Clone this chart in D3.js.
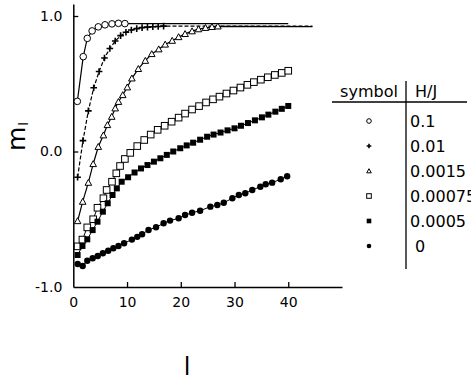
<!DOCTYPE html>
<html><head><meta charset="utf-8">
<script src="https://cdn.jsdelivr.net/npm/d3@7"></script>
<style>
html,body{margin:0;padding:0;background:#fff;overflow:hidden;}
svg{display:block;}
text{font-family:"DejaVu Sans","Liberation Sans",Arial,sans-serif;fill:#000;}
</style></head>
<body>
<svg id="chart" width="471" height="381"></svg>
<script>
// ---- data ----
const xTicks = [0, 10, 20, 30, 40];
const yTicks = [-1, 0, 1];
const legendHeader = ["symbol", "H/J"];
const fieldLabels = ["0.1", "0.01", "0.0015", "0.00075", "0.0005", "0"];
const symbols = ["circleOpen", "plus", "triangleOpen", "squareOpen", "squareFilled", "circleFilled"];

// H/J = 0.1 (open circles)
const lA = [0.75, 1.85, 2.6, 3.5, 4.65, 5.9, 7.2, 8.4, 9.6];
const mA = [0.37, 0.70, 0.835, 0.89, 0.92, 0.935, 0.942, 0.946, 0.944];
const tailA = [40, 0.944];
// H/J = 0.01 (plus)
const lB = [0.8, 1.8, 2.8, 3.8, 4.8, 5.8, 6.8, 7.8, 8.8, 9.8, 10.8, 11.8, 12.8, 13.8, 14.8, 15.8, 16.8];
const mB = [-0.19, 0.08, 0.30, 0.47, 0.59, 0.69, 0.76, 0.815, 0.855, 0.88, 0.897, 0.907, 0.914, 0.918, 0.921, 0.923, 0.925];
const tailB = [44.5, 0.926];
// H/J = 0.0015 (open triangles)
const lC = [0.8, 1.75, 2.8, 3.7, 4.65, 5.6, 6.35, 7.15, 7.8, 8.4, 9.2, 10.05, 10.9, 12.1, 13.4, 14.6, 15.9, 17.1, 18.4, 19.6, 20.8, 22.1, 23.3, 24.6, 25.8, 26.9];
const mC = [-0.513, -0.37, -0.23, -0.092, 0.035, 0.12, 0.196, 0.257, 0.319, 0.367, 0.417, 0.474, 0.54, 0.61, 0.67, 0.72, 0.755, 0.79, 0.818, 0.845, 0.868, 0.888, 0.903, 0.913, 0.92, 0.924];
const tailC = [44.5, 0.921];
// H/J = 0.00075 (open squares)
const lD = [0.8, 1.7, 2.6, 3.7, 4.5, 5.6, 6.2, 7.2, 8.0, 8.7, 9.6, 10.6, 11.9, 13.2, 14.4, 15.7, 17.0, 18.3, 19.6, 20.8, 22.1, 23.4, 24.7, 26.0, 27.2, 28.5, 29.8, 31.1, 32.4, 33.6, 34.9, 36.2, 37.5, 38.8, 40.0];
const mD = [-0.70, -0.65, -0.56, -0.50, -0.415, -0.345, -0.284, -0.223, -0.161, -0.107, -0.055, -0.01, 0.04, 0.085, 0.125, 0.16, 0.19, 0.22, 0.25, 0.28, 0.31, 0.335, 0.362, 0.385, 0.405, 0.428, 0.45, 0.472, 0.492, 0.512, 0.53, 0.548, 0.565, 0.58, 0.596];
// H/J = 0.0005 (filled squares)
const lE = [0.8, 1.7, 2.6, 3.6, 4.5, 5.5, 6.4, 7.3, 8.1, 9.0, 10.2, 11.4, 12.6, 13.8, 15.0, 16.2, 17.4, 18.6, 19.9, 21.1, 22.3, 23.6, 24.9, 26.1, 27.4, 28.7, 30.0, 31.2, 32.5, 33.8, 35.1, 36.3, 37.6, 38.8, 40.0];
const mE = [-0.764, -0.697, -0.648, -0.58, -0.518, -0.444, -0.382, -0.321, -0.272, -0.223, -0.19, -0.155, -0.125, -0.10, -0.075, -0.05, -0.025, 0.0, 0.024, 0.045, 0.065, 0.087, 0.109, 0.125, 0.14, 0.156, 0.171, 0.19, 0.21, 0.23, 0.252, 0.272, 0.294, 0.315, 0.336];
// H/J = 0 (filled circles)
const lF = [0.82, 1.75, 2.6, 3.6, 4.55, 5.5, 6.5, 7.45, 8.4, 9.45, 10.9, 11.9, 12.8, 14.0, 15.4, 16.8, 18.0, 19.6, 20.8, 22.1, 23.6, 25.5, 26.8, 28.0, 29.6, 30.8, 32.0, 33.3, 34.8, 35.8, 37.0, 38.6, 39.8];
const mF = [-0.83, -0.845, -0.806, -0.788, -0.771, -0.751, -0.732, -0.714, -0.697, -0.677, -0.65, -0.63, -0.611, -0.579, -0.559, -0.53, -0.51, -0.493, -0.469, -0.452, -0.437, -0.407, -0.395, -0.378, -0.345, -0.321, -0.308, -0.284, -0.26, -0.242, -0.23, -0.205, -0.183];

const series = [
  {l: lA, m: mA, tail: tailA, sym: symbols[0], dash: null},
  {l: lB, m: mB, tail: tailB, sym: symbols[1], dash: "4,2"},
  {l: lC, m: mC, tail: tailC, sym: symbols[2], dash: null},
  {l: lD, m: mD, tail: null, sym: symbols[3], dash: null},
  {l: lE, m: mE, tail: null, sym: symbols[4], dash: null},
  {l: lF, m: mF, tail: null, sym: symbols[5], dash: null}
];

// ---- drawing ----
const svg = d3.select("#chart");
const x = d3.scaleLinear().domain([0, 50]).range([73.3, 342]);
const y = d3.scaleLinear().domain([-1, 1.0886]).range([287, 4]);
const FONT = '"DejaVu Sans","Liberation Sans",Arial,sans-serif';

// axes
const gx = svg.append("g").attr("transform", `translate(0,${y(-1)})`)
  .call(d3.axisBottom(x).tickValues(xTicks).tickSizeInner(-5).tickSizeOuter(0).tickPadding(10).tickFormat(d3.format("d")));
const gy = svg.append("g").attr("transform", `translate(${x(0)},0)`)
  .call(d3.axisLeft(y).tickValues(yTicks).tickSizeInner(-5).tickSizeOuter(0).tickPadding(11).tickFormat(d => d.toFixed(1)));
[gx, gy].forEach(g => {
  g.select(".domain").attr("stroke", "#000").attr("stroke-width", 1.5);
  g.selectAll(".tick line").attr("stroke", "#000").attr("stroke-width", 1.3);
  g.selectAll(".tick text").attr("font-size", 14).attr("font-family", FONT).attr("fill", "#000");
});
gx.selectAll(".tick").filter(d => d === 0).select("line").remove();
gy.selectAll(".tick").filter(d => d === -1).select("line").remove();

// symbol drawer
function drawSymbol(g, sym, s) {
  const h = s / 2;
  switch (sym) {
    case "circleOpen":
      g.append("circle").attr("r", h).attr("fill", "#fff").attr("stroke", "#000").attr("stroke-width", 1); break;
    case "circleFilled":
      g.append("circle").attr("r", h).attr("fill", "#000"); break;
    case "plus":
      g.append("path").attr("d", `M${-h},0H${h}M0,${-h}V${h}`).attr("stroke", "#000").attr("stroke-width", 1.6); break;
    case "triangleOpen":
      g.append("path").attr("d", `M0,${-h}L${h},${h*0.8}L${-h},${h*0.8}Z`).attr("fill", "#fff").attr("stroke", "#000").attr("stroke-width", 1); break;
    case "squareOpen":
      g.append("rect").attr("x", -h).attr("y", -h).attr("width", s).attr("height", s).attr("fill", "#fff").attr("stroke", "#000").attr("stroke-width", 1); break;
    case "squareFilled":
      g.append("rect").attr("x", -h).attr("y", -h).attr("width", s).attr("height", s).attr("fill", "#000"); break;
  }
}

const line = d3.line().x(d => x(d[0])).y(d => y(d[1]));
const plot = svg.append("g");
series.forEach(s => {
  const pts = s.l.map((v, i) => [v, s.m[i]]);
  const full = s.tail ? pts.concat([s.tail]) : pts;
  plot.append("path").attr("d", line(full)).attr("fill", "none").attr("stroke", "#000")
    .attr("stroke-width", s.tail ? 1.2 : 1).attr("stroke-dasharray", s.dash);
});
series.forEach(s => {
  s.l.forEach((v, i) => {
    const g = plot.append("g").attr("transform", `translate(${x(v)},${y(s.m[i])})`);
    drawSymbol(g, s.sym, s.sym === "circleFilled" ? 6.4 : (s.sym === "squareFilled" ? 6 : 6.6));
  });
});

// axis titles
const yt = svg.append("text").attr("transform", "translate(25,151) rotate(-90)").attr("font-size", 25).attr("font-family", '"Liberation Sans",Arial,sans-serif');
yt.append("tspan").text("m");
yt.append("tspan").attr("font-size", 13).attr("dy", 3).attr("dx", 1).text("l");
svg.append("text").attr("x", 187).attr("y", 375).attr("text-anchor", "middle").attr("font-size", 24)
  .attr("font-family", '"Liberation Sans",Arial,sans-serif').text("l");

// legend table
const leg = svg.append("g");
const colSym = 369, divX = 406, valX = 410;
const rowY = [121, 146, 171, 196, 221, 246];
leg.append("text").attr("x", colSym).attr("y", 97).attr("text-anchor", "middle").attr("font-size", 16).text(legendHeader[0]);
leg.append("text").attr("x", 415).attr("y", 97).attr("font-size", 16).text(legendHeader[1]);
leg.append("line").attr("x1", 332).attr("x2", 467).attr("y1", 102).attr("y2", 102).attr("stroke", "#000").attr("stroke-width", 1.3);
leg.append("line").attr("x1", divX).attr("x2", divX).attr("y1", 81).attr("y2", 269).attr("stroke", "#000").attr("stroke-width", 1.3);
fieldLabels.forEach((t, i) => {
  const g = leg.append("g").attr("transform", `translate(${colSym},${rowY[i]})`);
  drawSymbol(g, symbols[i], 4.6);
  leg.append("text").attr("x", t === "0" ? 415 : valX).attr("y", rowY[i] + 6).attr("font-size", 16).text(t);
});
</script>
</body></html>
